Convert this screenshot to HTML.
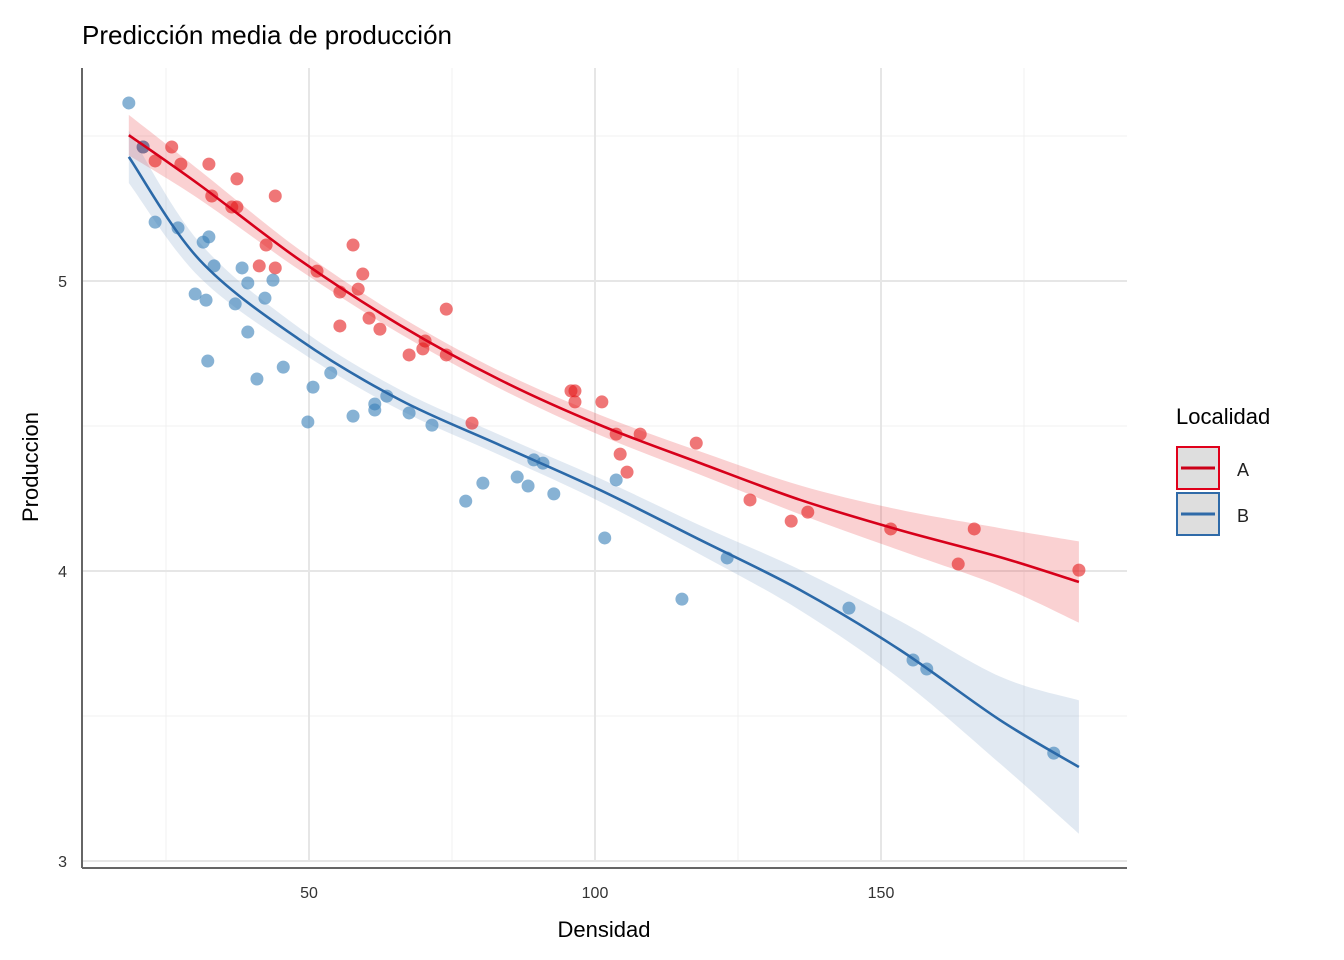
<!DOCTYPE html>
<html><head><meta charset="utf-8"><style>
body{margin:0;background:#fff;}
svg{display:block;font-family:"Liberation Sans",Arial,sans-serif;}
</style></head><body>
<svg id="chart" width="1344" height="960" viewBox="0 0 1344 960">
<g id="grid"></g>
<g id="bands"></g>
<g id="pts"></g>
<g id="lines"></g>
<g id="axes"></g>
<text x="82" y="44" font-size="26" fill="#000">Predicción media de producción</text>
<text x="604" y="937" font-size="22" text-anchor="middle" fill="#000">Densidad</text>
<text x="0" y="0" font-size="22" text-anchor="middle" fill="#000" transform="translate(38,467) rotate(-90)">Produccion</text>
<g>
<text x="1176" y="424" font-size="22" fill="#000">Localidad</text>
<g>
<rect x="1177" y="447" width="42" height="42" fill="#dedede" stroke="#e0001b" stroke-width="2"/>
<line x1="1181" y1="468" x2="1215" y2="468" stroke="#cc0018" stroke-width="3"/>
<text x="1237" y="476" font-size="18" fill="#222">A</text></g>
<g>
<rect x="1177" y="493" width="42" height="42" fill="#dedede" stroke="#2f6aa8" stroke-width="2"/>
<line x1="1181" y1="514" x2="1215" y2="514" stroke="#2f6aa8" stroke-width="3"/>
<text x="1237" y="522" font-size="18" fill="#222">B</text></g>
</g>
</svg>
<script>
const xTicks=[50,100,150];
const xMinor=[25,75,125,175];
const yTicks=[3,4,5];
const yMinor=[3.5,4.5,5.5];
const aX=[21.0,23.1,26.0,27.6,32.5,33.0,36.5,37.4,37.4,44.1,41.3,42.5,44.1,51.4,55.4,55.4,57.7,58.6,59.4,60.5,62.4,67.5,69.9,70.3,74.0,74.0,78.5,95.8,96.5,96.5,101.2,103.7,104.4,105.6,107.9,117.7,127.1,134.3,137.2,151.7,163.5,166.3,184.6];
const aY=[5.462,5.414,5.462,5.403,5.403,5.293,5.255,5.352,5.255,5.293,5.052,5.124,5.045,5.034,4.962,4.845,5.124,4.972,5.024,4.872,4.834,4.745,4.766,4.793,4.903,4.745,4.510,4.621,4.621,4.583,4.583,4.472,4.403,4.341,4.472,4.441,4.245,4.172,4.203,4.145,4.024,4.145,4.003];
const bX=[18.5,21.0,23.1,27.1,30.1,31.5,32.0,32.5,32.3,33.4,37.1,38.3,39.3,39.3,40.9,42.3,43.7,45.5,49.8,50.7,53.8,57.7,61.5,61.5,63.6,67.5,71.5,77.4,80.4,86.4,88.3,89.3,90.9,92.8,101.7,103.7,115.2,123.1,144.4,155.6,158.0,180.2];
const bY=[5.614,5.462,5.203,5.183,4.955,5.134,4.934,5.152,4.724,5.052,4.921,5.045,4.993,4.824,4.662,4.941,5.003,4.703,4.514,4.634,4.683,4.534,4.576,4.555,4.603,4.545,4.503,4.241,4.303,4.324,4.293,4.383,4.372,4.266,4.114,4.314,3.903,4.045,3.872,3.693,3.662,3.372];
const fitAX=[18.5,30.9,48.4,65.9,83.4,100.9,118.4,135.9,153.3,170.8,184.6];
const fitAY=[5.503,5.331,5.072,4.848,4.659,4.503,4.372,4.245,4.141,4.048,3.962];
const fitASE=[0.07,0.05,0.035,0.03,0.03,0.035,0.04,0.05,0.07,0.10,0.14];
const fitBX=[18.5,30.9,48.4,65.9,83.4,100.9,118.4,135.9,153.3,170.8,184.6];
const fitBY=[5.428,5.072,4.797,4.590,4.434,4.279,4.107,3.934,3.728,3.486,3.324];
const fitBSE=[0.09,0.06,0.04,0.035,0.035,0.04,0.05,0.07,0.10,0.15,0.23];

const NS="http://www.w3.org/2000/svg";
const sx=v=>23+v*5.72;
const sy=v=>281+(5-v)*290;
const L=82,R=1127,T=68,B=868;
function mk(parent,tag,attrs){const e=document.createElementNS(NS,tag);for(const k in attrs)e.setAttribute(k,attrs[k]);document.getElementById(parent).appendChild(e);return e;}
function smooth(pts,move){
 let d=(move?'M':'L')+pts[0][0]+','+pts[0][1];
 for(let i=0;i<pts.length-1;i++){
  const p0=pts[Math.max(i-1,0)],p1=pts[i],p2=pts[i+1],p3=pts[Math.min(i+2,pts.length-1)];
  d+='C'+(p1[0]+(p2[0]-p0[0])/6)+','+(p1[1]+(p2[1]-p0[1])/6)+' '+(p2[0]-(p3[0]-p1[0])/6)+','+(p2[1]-(p3[1]-p1[1])/6)+' '+p2[0]+','+p2[1];
 }
 return d;
}
xMinor.forEach(v=>{const e=mk('grid','line',{x1:sx(v),x2:sx(v),y1:T,y2:B-6,stroke:'#f0f0f0','stroke-width':1});

});
yMinor.forEach(v=>{const e=mk('grid','line',{x1:L,x2:R,y1:sy(v),y2:sy(v),stroke:'#f0f0f0','stroke-width':1});

});
xTicks.forEach(v=>{const e=mk('grid','line',{x1:sx(v),x2:sx(v),y1:T,y2:B-6,stroke:'#e6e6e6','stroke-width':2});


const t=mk('axes','text',{x:sx(v),y:898,'font-size':16,'text-anchor':'middle',fill:'#333'});t.textContent=v;

});
yTicks.forEach(v=>{const e=mk('grid','line',{x1:L,x2:R,y1:sy(v),y2:sy(v),stroke:'#e6e6e6','stroke-width':2});


const t=mk('axes','text',{x:67,y:sy(v)+6,'font-size':16,'text-anchor':'end',fill:'#333'});t.textContent=v;

});
let e=mk('axes','line',{x1:L,x2:L,y1:T,y2:B,stroke:'#666','stroke-width':2});


e=mk('axes','line',{x1:L,x2:R,y1:B,y2:B,stroke:'#666','stroke-width':2});



function band(xs,ys,se,fill,name){
 const up=xs.map((x,i)=>[sx(x),sy(ys[i]+se[i])]);
 const lo=xs.map((x,i)=>[sx(x),sy(ys[i]-se[i])]).reverse();
 const p=mk('bands','path',{d:smooth(up,true)+smooth(lo,false)+'Z',fill:fill,'fill-opacity':0.2});
 
 
}
band(fitAX,fitAY,fitASE,'#e41a1c','band-a');
band(fitBX,fitBY,fitBSE,'#6a8fc0','band-b');
aX.forEach((x,i)=>{const c=mk('pts','circle',{cx:sx(x),cy:sy(aY[i]),r:6.5,fill:'#e41a1c','fill-opacity':0.6});

});
bX.forEach((x,i)=>{const c=mk('pts','circle',{cx:sx(x),cy:sy(bY[i]),r:6.5,fill:'#377eb8','fill-opacity':0.6});

});
function line(xs,ys,col,name){
 const p=mk('lines','path',{d:smooth(xs.map((x,i)=>[sx(x),sy(ys[i])]),true),fill:'none',stroke:col,'stroke-width':2.6,'stroke-linejoin':'round'});
 
 
}
line(fitAX,fitAY,'#d7001a','fit-line-a');
line(fitBX,fitBY,'#2b69a8','fit-line-b');
</script>
</body></html>
